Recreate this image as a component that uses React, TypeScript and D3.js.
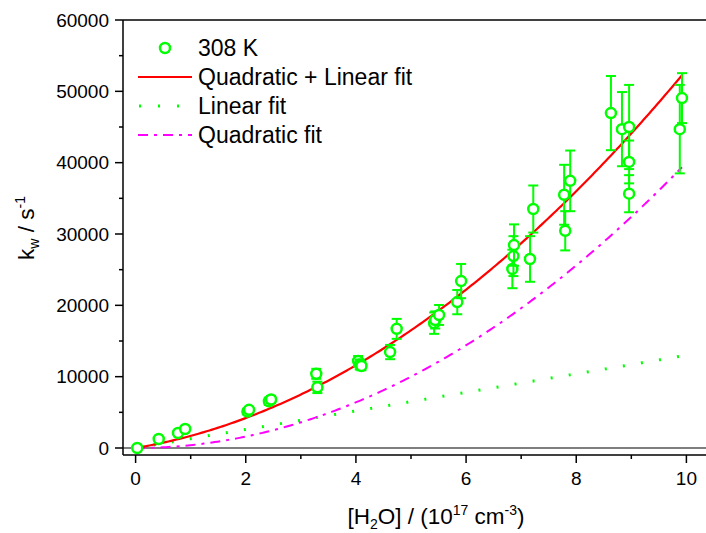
import React from "react";
import * as d3 from "d3";

// ---- data ----
const waterConc: number[] = [
  0.03, 0.42, 0.77, 0.9, 2.03, 2.06, 2.42, 2.46, 3.28, 3.3, 4.04, 4.07, 4.1,
  4.62, 4.74, 5.42, 5.44, 5.51, 5.84, 5.91, 6.84, 6.86, 6.87, 7.16, 7.22, 7.78,
  7.8, 7.89, 8.63, 8.83, 8.96, 8.96, 8.96, 9.88, 9.92,
];
const kwValues: number[] = [
  0, 1260, 2100, 2660, 5100, 5350, 6550, 6800, 10400, 8500, 12200, 11700, 11500,
  13450, 16700, 17500, 17950, 18650, 20450, 23400, 25100, 26900, 28450, 26500,
  33500, 35500, 30450, 37450, 46950, 44700, 45000, 40100, 35650, 44700, 49050,
];
const kwErrors: number[] = [
  300, 250, 300, 350, 400, 400, 500, 500, 700, 800, 700, 700, 600, 1000, 1400,
  1500, 1200, 1400, 1700, 2400, 2700, 2800, 2900, 3200, 3300, 4200, 2750, 4250,
  5200, 5200, 5900, 3000, 2600, 6200, 3500,
];
const linearCoef = 1300; // s^-1 per 1e17 cm^-3
const quadCoef = 400;
const fitRange: [number, number] = [0, 9.92];
const xTickValues: number[] = [0, 2, 4, 6, 8, 10];
const xMinorTicks: number[] = [1, 3, 5, 7, 9, 11];
const yTickValues: number[] = [0, 10000, 20000, 30000, 40000, 50000, 60000];
const yMinorTicks: number[] = [5000, 15000, 25000, 35000, 45000, 55000];
const legendLabels: string[] = ["308 K", "Quadratic + Linear fit", "Linear fit", "Quadratic fit"];

const FONT = "'Liberation Sans', Arial, Helvetica, sans-serif";
const GREEN = "#00ff00";
const RED = "#ff0000";
const MAGENTA = "#ff00ff";

export default function App() {
  const W = 706;
  const H = 533;
  const x = d3.scaleLinear().domain([0, 10]).range([135.6, 686.4]);
  const y = d3.scaleLinear().domain([0, 60000]).range([448, 20]);
  const frameLeft = 123;
  const frameTop = 20;
  const frameBottom = 455;
  const frameRight = 710;

  const fitXs = d3.range(0, 201).map((i) => fitRange[0] + ((fitRange[1] - fitRange[0]) * i) / 200);
  const line = d3
    .line<[number, number]>()
    .x((d) => x(d[0]))
    .y((d) => y(d[1]));
  const quadLin = line(fitXs.map((v) => [v, linearCoef * v + quadCoef * v * v]));
  const lin = line(fitXs.map((v) => [v, linearCoef * v]));
  const quad = line(fitXs.map((v) => [v, quadCoef * v * v]));

  const points = waterConc.map((v, i) => ({ x: v, y: kwValues[i], e: kwErrors[i] }));

  const legendTextX = 198;
  const legendRows = [56, 85, 114, 143];

  return (
    <svg width={W} height={H} style={{ position: "absolute", left: 0, top: 0, background: "#fff" }} fontFamily={FONT}>
      <rect x={0} y={0} width={W} height={H} fill="#fff" />
      {/* zero line */}
      <line x1={frameLeft} x2={frameRight} y1={y(0)} y2={y(0)} stroke="#000" strokeWidth={1.2} />
      {/* fits */}
      <path d={lin ?? ""} fill="none" stroke={GREEN} strokeWidth={3} strokeDasharray="2,16.3" />
      <path d={quad ?? ""} fill="none" stroke={MAGENTA} strokeWidth={2} strokeDasharray="10,6,3,6" />
      <path d={quadLin ?? ""} fill="none" stroke={RED} strokeWidth={2.2} />
      {/* error bars + points */}
      {points.map((p, i) => (
        <g key={i} stroke={GREEN} strokeWidth={2} fill="none">
          <line x1={x(p.x)} x2={x(p.x)} y1={y(p.y - p.e)} y2={y(p.y + p.e)} />
          <line x1={x(p.x) - 5} x2={x(p.x) + 5} y1={y(p.y - p.e)} y2={y(p.y - p.e)} />
          <line x1={x(p.x) - 5} x2={x(p.x) + 5} y1={y(p.y + p.e)} y2={y(p.y + p.e)} />
          <circle cx={x(p.x)} cy={y(p.y)} r={5} fill="#fff" strokeWidth={2.5} />
        </g>
      ))}
      {/* frame */}
      <line x1={frameLeft} x2={frameLeft} y1={frameTop} y2={frameBottom} stroke="#000" strokeWidth={1.5} />
      <line x1={frameLeft} x2={frameRight} y1={frameTop} y2={frameTop} stroke="#000" strokeWidth={1.5} />
      <line x1={frameLeft} x2={frameRight} y1={frameBottom} y2={frameBottom} stroke="#000" strokeWidth={1.5} />
      {/* y ticks */}
      {yTickValues.map((t) => (
        <g key={"y" + t}>
          <line x1={frameLeft - 8} x2={frameLeft} y1={y(t)} y2={y(t)} stroke="#000" strokeWidth={1.5} />
          <text x={109} y={y(t)} dy="0.35em" textAnchor="end" fontSize={19} fill="#000">
            {t}
          </text>
        </g>
      ))}
      {yMinorTicks.map((t) => (
        <line key={"ym" + t} x1={frameLeft - 4} x2={frameLeft} y1={y(t)} y2={y(t)} stroke="#000" strokeWidth={1.5} />
      ))}
      {/* x ticks */}
      {xTickValues.map((t) => (
        <g key={"x" + t}>
          <line x1={x(t)} x2={x(t)} y1={frameBottom} y2={frameBottom + 8} stroke="#000" strokeWidth={1.5} />
          <text x={x(t)} y={485} textAnchor="middle" fontSize={19} fill="#000">
            {t}
          </text>
        </g>
      ))}
      {xMinorTicks.map((t) => (
        <line key={"xm" + t} x1={x(t)} x2={x(t)} y1={frameBottom} y2={frameBottom + 4} stroke="#000" strokeWidth={1.5} />
      ))}
      {/* axis titles */}
      <text x={436} y={524} textAnchor="middle" fontSize={22.5} fill="#000">
        [H<tspan fontSize={14} dy={5}>2</tspan>
        <tspan dy={-5}>O] / (10</tspan>
        <tspan fontSize={14} dy={-9}>17</tspan>
        <tspan dy={9}> cm</tspan>
        <tspan fontSize={14} dy={-9}>-3</tspan>
        <tspan dy={9}>)</tspan>
      </text>
      <text transform="translate(34,228) rotate(-90)" textAnchor="middle" fontSize={22.5} fill="#000">
        k<tspan fontSize={14} dy={5}>w</tspan>
        <tspan dy={-5}> / s</tspan>
        <tspan fontSize={14} dy={-9}>-1</tspan>
      </text>
      {/* legend */}
      <circle cx={165} cy={48} r={5} fill="#fff" stroke={GREEN} strokeWidth={2.5} />
      <line x1={138} x2={192} y1={77} y2={77} stroke={RED} strokeWidth={2.2} />
      <line x1={139} x2={192} y1={106} y2={106} stroke={GREEN} strokeWidth={3} strokeDasharray="2,17" />
      <line x1={138} x2={192} y1={135} y2={135} stroke={MAGENTA} strokeWidth={2} strokeDasharray="10,6,3,6" />
      {legendLabels.map((l, i) => (
        <text key={l} x={legendTextX} y={legendRows[i]} fontSize={23} fill="#000">
          {l}
        </text>
      ))}
    </svg>
  );
}
